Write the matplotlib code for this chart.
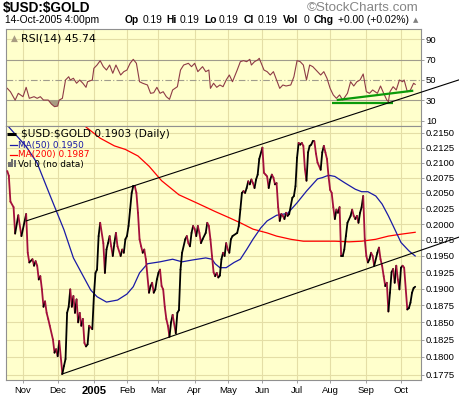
import numpy as np
import matplotlib
matplotlib.use("Agg")
import matplotlib.pyplot as plt
from matplotlib.collections import LineCollection
from matplotlib.patches import Rectangle
from matplotlib.ticker import NullLocator, NullFormatter

plt.rcParams["font.family"] = ["DejaVu Sans"]

START = "2004-10-18"  # trading day 0

# $USD:$GOLD close, keyed by trading day since START
price_day = [0, 1, 2, 4, 5, 7, 9, 12, 13, 14, 16, 17, 18, 19, 20, 21, 22, 23, 24, 25,
             26, 27, 29, 30, 31, 32, 33, 35, 36, 37, 38, 39, 40, 41, 42, 43, 44, 45, 46, 47,
             48, 49, 50, 51, 52, 54, 55, 56, 57, 58, 59, 61, 62, 63, 64, 65, 66, 67, 68, 69,
             70, 72, 73, 74, 75, 76, 77, 78, 79, 80, 81, 82, 83, 84, 85, 86, 87, 88, 90, 91,
             92, 93, 94, 95, 96, 97, 98, 99, 100, 101, 102, 103, 104, 105, 107, 108, 109, 110, 111, 113,
             114, 115, 116, 117, 118, 119, 120, 121, 122, 123, 124, 126, 127, 128, 129, 130, 131, 132, 133, 134,
             135, 136, 137, 138, 139, 140, 141, 142, 143, 146, 147, 148, 149, 150, 151, 152, 153, 154, 155, 156,
             157, 158, 159, 160, 162, 163, 164, 165, 166, 167, 168, 169, 170, 171, 172, 173, 174, 175, 176, 177,
             178, 179, 181, 182, 183, 184, 185, 186, 187, 188, 189, 190, 191, 192, 193, 194, 195, 196, 197, 199,
             200, 201, 202, 203, 204, 205, 206, 207, 208, 209, 210, 211, 212, 213, 214, 215, 216, 218, 219, 220,
             221, 222, 223, 224, 225, 226, 227, 228, 229, 230, 231, 232, 233, 235, 236, 237, 238, 239, 240, 241,
             242, 243, 244, 245, 246, 247, 248, 249, 250, 251, 252, 254, 255, 256, 257, 258, 259]
price = [0.2086, 0.2078, 0.2036, 0.2027, 0.1985, 0.2014, 0.1981, 0.2016, 0.1955, 0.1940,
         0.1945, 0.1935, 0.1942, 0.1935, 0.1914, 0.1919, 0.1899, 0.1873, 0.1881, 0.1864,
         0.1855, 0.1845, 0.1825, 0.1806, 0.1811, 0.1801, 0.1823, 0.1776, 0.1787, 0.1797,
         0.1864, 0.1873, 0.1899, 0.1873, 0.1889, 0.1864, 0.1884, 0.1850, 0.1864, 0.1845,
         0.1855, 0.1820, 0.1815, 0.1818, 0.1845, 0.1840, 0.1889, 0.1924, 0.1929, 0.1981,
         0.2002, 0.1970, 0.1924, 0.1960, 0.1970, 0.1981, 0.1965, 0.1950, 0.1970, 0.1986,
         0.1965, 0.1950, 0.1960, 0.1955, 0.1976, 0.1981, 0.1997, 0.2023, 0.2050, 0.2061,
         0.2061, 0.2050, 0.2018, 0.1976, 0.1965, 0.1955, 0.1960, 0.1945, 0.1894, 0.1904,
         0.1909, 0.1894, 0.1899, 0.1914, 0.1924, 0.1929, 0.1904, 0.1899, 0.1873, 0.1855,
         0.1845, 0.1829, 0.1850, 0.1861, 0.1834, 0.1864, 0.1868, 0.1929, 0.1955, 0.1976,
         0.1981, 0.1970, 0.1965, 0.1986, 0.1997, 0.1992, 0.1981, 0.1997, 0.1986, 0.1970,
         0.1976, 0.1986, 0.2002, 0.1997, 0.1976, 0.1950, 0.1925, 0.1919, 0.1924, 0.1917,
         0.1920, 0.1945, 0.1955, 0.1950, 0.1970, 0.1960, 0.1955, 0.1976, 0.1981, 0.1986,
         0.1997, 0.2023, 0.2050, 0.2053, 0.2050, 0.2058, 0.2069, 0.2064, 0.2072, 0.2066,
         0.2058, 0.2072, 0.2080, 0.2106, 0.2125, 0.2083, 0.2080, 0.2077, 0.2058, 0.2072,
         0.2080, 0.2075, 0.2064, 0.2066, 0.2027, 0.2005, 0.2016, 0.2013, 0.2008, 0.2018,
         0.2013, 0.2016, 0.2042, 0.2045, 0.2061, 0.2108, 0.2133, 0.2130, 0.2133, 0.2128,
         0.2089, 0.2070, 0.2117, 0.2128, 0.2130, 0.2136, 0.2136, 0.2115, 0.2100, 0.2088,
         0.2117, 0.2128, 0.2117, 0.2106, 0.2077, 0.2055, 0.2050, 0.2027, 0.2008, 0.2023,
         0.2018, 0.2027, 0.1950, 0.1950, 0.1960, 0.1981, 0.2002, 0.2013, 0.2023, 0.2013,
         0.2008, 0.2013, 0.2002, 0.2018, 0.2027, 0.2045, 0.1976, 0.1950, 0.1940, 0.1945,
         0.1955, 0.1950, 0.1935, 0.1955, 0.1963, 0.1945, 0.1935, 0.1919, 0.1904, 0.1909,
         0.1866, 0.1894, 0.1925, 0.1930, 0.1909, 0.1935, 0.1914, 0.1899, 0.1932, 0.1935,
         0.1932, 0.1869, 0.1871, 0.1879, 0.1894, 0.1901, 0.1903]

ma50_day = [1, 12, 19, 27, 36, 42, 46, 53, 57, 63, 70, 76, 80, 84, 89, 97, 105, 111, 118, 126,
            130, 132, 135, 139, 144, 148, 152, 156, 161, 165, 171, 178, 184, 190, 197, 200, 204, 208, 214, 221,
            225, 229, 234, 238, 242, 246, 250, 255, 259]
ma50 = [0.2160, 0.2127, 0.2099, 0.2047, 0.1991, 0.1947, 0.1929, 0.1898, 0.1888, 0.1880,
        0.1883, 0.1892, 0.1903, 0.1924, 0.1938, 0.1941, 0.1945, 0.1941, 0.1944, 0.1947,
        0.1945, 0.1938, 0.1932, 0.1932, 0.1940, 0.1945, 0.1960, 0.1976, 0.1994, 0.2005,
        0.2014, 0.2017, 0.2034, 0.2053, 0.2073, 0.2075, 0.2079, 0.2077, 0.2067, 0.2056,
        0.2052, 0.2052, 0.2045, 0.2032, 0.2013, 0.1992, 0.1971, 0.1958, 0.1950]

ma200_day = [50, 59, 68, 75, 83, 90, 98, 109, 121, 132, 141, 148, 156, 165, 171, 180, 188, 199, 208, 217,
             225, 234, 242, 250, 259]
ma200 = [0.2160, 0.2141, 0.2128, 0.2122, 0.2111, 0.2094, 0.2070, 0.2047, 0.2033, 0.2020,
         0.2010, 0.2002, 0.1992, 0.1986, 0.1981, 0.1976, 0.1973, 0.1973, 0.1973, 0.1972,
         0.1973, 0.1976, 0.1981, 0.1984, 0.1987]

rsi_day = [0, 2, 5, 7, 10, 12, 14, 17, 19, 21, 23, 26, 28, 30, 32, 33, 35, 37, 39, 40,
           42, 44, 46, 48, 50, 51, 54, 55, 57, 59, 61, 63, 65, 67, 69, 72, 74, 76, 78, 80,
           82, 84, 86, 89, 91, 93, 95, 97, 99, 101, 103, 105, 108, 110, 112, 115, 117, 119, 121, 124,
           126, 128, 129, 131, 133, 135, 137, 139, 141, 143, 146, 148, 150, 152, 154, 155, 157, 159, 160, 163,
           165, 167, 169, 171, 173, 175, 177, 180, 182, 184, 186, 188, 190, 192, 194, 197, 199, 201, 203, 205,
           207, 209, 211, 213, 216, 218, 220, 222, 224, 226, 228, 230, 232, 235, 237, 239, 241, 242, 243, 245,
           247, 249, 251, 252, 254, 256, 258, 259]
rsi = [41.8, 38.5, 30.2, 36.9, 33.6, 42.8, 32.0, 33.6, 32.0, 33.6, 30.3, 30.3, 26.4, 23.8, 24.4, 30.3, 32.0, 50.0, 53.2, 50.0,
       51.7, 46.8, 50.0, 46.8, 42.8, 48.3, 50.0, 61.5, 64.7, 69.0, 63.1, 59.8, 64.7, 56.6, 64.7, 54.9, 58.2, 59.8, 66.4, 70.3,
       66.4, 48.3, 46.8, 45.1, 36.9, 37.5, 42.8, 36.9, 38.5, 33.6, 31.0, 40.2, 43.4, 59.8, 64.7, 66.4, 63.1, 66.4, 58.2, 63.1,
       58.2, 59.8, 41.8, 46.8, 42.8, 45.1, 43.4, 50.0, 54.9, 48.3, 59.8, 68.0, 69.0, 68.0, 70.3, 64.7, 68.0, 69.7, 71.3, 59.8,
       58.2, 54.9, 58.2, 50.0, 41.8, 45.1, 44.1, 45.1, 53.2, 69.0, 68.0, 64.7, 50.0, 64.7, 63.1, 58.2, 54.9, 58.2, 51.7, 41.8,
       35.3, 32.0, 35.3, 30.3, 36.9, 48.3, 44.1, 48.3, 50.0, 55.9, 38.5, 36.9, 40.2, 36.9, 44.1, 36.9, 30.3, 28.7, 38.5, 43.4,
       40.2, 50.0, 48.3, 50.0, 38.5, 40.2, 46.8, 45.7]

# channel lines drawn on the chart (trading day, price)
upper_trend_day = [12, 287.5]
upper_trend = [0.2005, 0.2243]
lower_trend_day = [34.6, 287.5]
lower_trend = [0.17755, 0.1980]

# RSI support lines
rsi_low_day = [206, 244.7]
rsi_low = [27.7, 27.7]
rsi_up_day = [209.2, 257.8]
rsi_up = [30.3, 39.5]

month_starts = ["2004-11-01", "2004-12-01", "2005-01-01", "2005-02-01", "2005-03-01", "2005-04-01",
                "2005-05-01", "2005-06-01", "2005-07-01", "2005-08-01", "2005-09-01", "2005-10-01"]
month_labels = ["Nov", "Dec", "2005", "Feb", "Mar", "Apr", "May", "Jun", "Jul", "Aug", "Sep", "Oct"]
price_ticks = [0.1775, 0.1800, 0.1825, 0.1850, 0.1875, 0.1900, 0.1925, 0.1950,
               0.1975, 0.2000, 0.2025, 0.2050, 0.2075, 0.2100, 0.2125, 0.2150]
rsi_ticks = [10, 30, 50, 70, 90]

W, H = 460, 397
BG = "#FFFFCC"
GRID = "#E4DEA6"
SPINE = "#909090"
UP, DOWN = "black", "#A3103C"
TICKFONT = "Liberation Sans"

month_idx = np.busday_count(START, month_starts)


def px_rect(x0, y0, x1, y1):
    return [x0 / W, 1 - y1 / H, (x1 - x0) / W, (y1 - y0) / H]


def fx(x):
    return x / W


def fy(y):
    return 1 - y / H


fig = plt.figure(figsize=(W / 100, H / 100), dpi=100)
fig.patch.set_facecolor("white")

ax_rsi = fig.add_axes(px_rect(6, 29, 421, 126))
ax = fig.add_axes(px_rect(6, 126, 421, 380))

for a in (ax_rsi, ax):
    a.set_facecolor(BG)
    a.set_xlim(-0.8, 262.7)
    for s in a.spines.values():
        s.set_color(SPINE)
        s.set_linewidth(0.8)
    a.set_axisbelow(True)
    for m in month_idx:
        a.axvline(m, color=GRID, lw=0.8, zorder=0)

# ---- RSI panel
ax_rsi.set_ylim(4.8, 100.1)
ax_rsi.yaxis.tick_right()
ax_rsi.set_yticks(rsi_ticks)
ax_rsi.set_yticklabels([str(t) for t in rsi_ticks], fontfamily=TICKFONT)
ax_rsi.tick_params(axis="y", length=2, width=0.6, color=SPINE, pad=1.5, labelsize=6.8)
ax_rsi.set_xticks([])
for lvl, col, ls in [(90, GRID, "-"), (10, GRID, "-"), (70, "#A09C8C", "-"),
                     (30, "#A09C8C", "-"), (50, "#A09C8C", (0, (6, 2, 1, 2)))]:
    ax_rsi.axhline(lvl, color=col, lw=0.8, ls=ls, zorder=0.5)

rd = np.array(rsi_day, dtype=float)
rv = np.array(rsi)
ax_rsi.fill_between(rd, rv, 30, where=rv < 30, interpolate=True, color="#A89C82", lw=0, zorder=1)
ax_rsi.plot(rd, rv, color="#8E3B46", lw=0.8, zorder=2)
ax_rsi.plot(rsi_low_day, rsi_low, color="#0A9A0A", lw=1.6, solid_capstyle="butt", zorder=3)
ax_rsi.plot(rsi_up_day, rsi_up, color="#0A9A0A", lw=1.6, solid_capstyle="butt", zorder=3)

ax_rsi.text(0.012, 0.905, "\u25B2", transform=ax_rsi.transAxes, color="#A89C82",
            fontsize=6.5, va="center", ha="left")
ax_rsi.text(0.036, 0.905, "RSI(14) 45.74", transform=ax_rsi.transAxes,
            fontsize=7.9, va="center", ha="left")

# ---- price panel
ax.set_yscale("log")
ax.set_ylim(0.17673, 0.21618)
ax.yaxis.tick_right()
ax.set_yticks(price_ticks)
ax.yaxis.set_minor_locator(NullLocator())
ax.yaxis.set_minor_formatter(NullFormatter())
ax.set_yticklabels([f"{t:.4f}" for t in price_ticks], fontfamily=TICKFONT)
ax.tick_params(axis="y", length=2, width=0.6, color=SPINE, pad=1.5, labelsize=6.8)
ax.grid(True, axis="y", color=GRID, lw=0.8)

ax.set_xticks(month_idx)
ax.set_xticklabels(month_labels, fontfamily=TICKFONT)
ax.tick_params(axis="x", length=2, width=0.6, color=SPINE, pad=2, labelsize=6.8)
for lab in ax.get_xticklabels():
    if lab.get_text() == "2005":
        lab.set_fontweight("bold")
        lab.set_fontsize(8)

ax.plot(ma200_day, ma200, color="#FF0000", lw=0.9, zorder=2)
ax.plot(ma50_day, ma50, color="#1A1AA6", lw=0.9, zorder=2)

pd_ = np.array(price_day, dtype=float)
pv = np.array(price)
segs = [[(pd_[i], pv[i]), (pd_[i + 1], pv[i + 1])] for i in range(len(pv) - 1)]
cols = [UP if pv[i + 1] >= pv[i] else DOWN for i in range(len(pv) - 1)]
ax.add_collection(LineCollection(segs, colors=cols, linewidths=1.3, zorder=3,
                                 capstyle="round", joinstyle="round"))

ax.plot(upper_trend_day, upper_trend, color="black", lw=0.8, clip_on=False, zorder=4)
ax.plot(lower_trend_day, lower_trend, color="black", lw=0.8, clip_on=False, zorder=4)

# legend block
ax.plot([0.003, 0.025], [0.969, 0.969], transform=ax.transAxes, color="black", lw=2.2,
        solid_capstyle="butt", zorder=5)
ax.text(0.035, 0.969, "$USD:$GOLD 0.1903 (Daily)", transform=ax.transAxes,
        fontsize=7.6, va="center", ha="left", zorder=5, parse_math=False)
ax.plot([0.009, 0.026], [0.925, 0.925], transform=ax.transAxes, color="#1A1AA6", lw=0.9, zorder=5)
ax.text(0.030, 0.925, "MA(50) 0.1950", transform=ax.transAxes, color="#1A1AA6",
        fontsize=6.4, va="center", ha="left", zorder=5)
ax.plot([0.009, 0.026], [0.886, 0.886], transform=ax.transAxes, color="#FF0000", lw=0.9, zorder=5)
ax.text(0.030, 0.886, "MA(200) 0.1987", transform=ax.transAxes, color="#FF0000",
        fontsize=6.4, va="center", ha="left", zorder=5)
for i, hgt in enumerate([0.022, 0.034, 0.028]):
    ax.add_patch(Rectangle((0.006 + i * 0.0068, 0.838), 0.005, hgt, transform=ax.transAxes,
                           color="#707070", lw=0, zorder=5))
ax.text(0.030, 0.847, "Vol 0 (no data)", transform=ax.transAxes,
        fontsize=6.4, va="center", ha="left", zorder=5)

# ---- header
fig.text(fx(3), fy(8), "$USD:$GOLD", fontsize=9.8, fontweight="bold",
         fontfamily=TICKFONT, va="center", ha="left", parse_math=False)
fig.text(fx(419), fy(8), "\u00A9StockCharts.com", fontsize=9.6, color="#858585",
         fontfamily=TICKFONT, va="center", ha="right")
fig.text(fx(5), fy(20), "14-Oct-2005 4:00pm", fontsize=7.4, fontfamily=TICKFONT,
         va="center", ha="left")
header = [(125, "Op", "bold"), (142.5, "0.19", "normal"), (166.5, "Hi", "bold"),
          (180, "0.19", "normal"), (204, "Lo", "bold"), (218.3, "0.19", "normal"),
          (243.3, "Cl", "bold"), (257.3, "0.19", "normal"), (282.7, "Vol", "bold"),
          (303.3, "0", "normal"), (313.3, "Chg", "bold"), (338.3, "+0.00 (+0.02%)", "normal")]
for x, s, w in header:
    fig.text(fx(x), fy(20), s, fontsize=7.4, fontweight=w, fontfamily=TICKFONT,
             va="center", ha="left")
fig.text(fx(413), fy(20), "\u25B2", fontsize=5, color="#808080", va="center", ha="left")

fig.savefig("out.png", dpi=100)
